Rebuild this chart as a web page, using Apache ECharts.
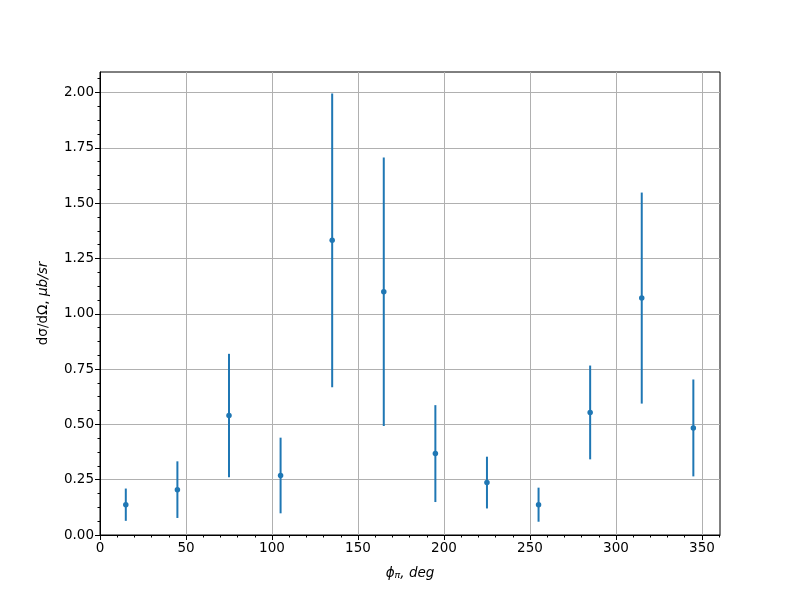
<!DOCTYPE html>
<html>
<head>
<meta charset="utf-8">
<script src="https://cdn.jsdelivr.net/npm/echarts@6/dist/echarts.min.js"></script>
<style>html,body{margin:0;padding:0;background:#fff}#c{width:800px;height:600px}</style>
</head>
<body>
<div id="c"></div>
<script>
const phi = [15, 45, 75, 105, 135, 165, 195, 225, 255, 285, 315, 345];
const xsec = [0.137, 0.205, 0.540, 0.269, 1.332, 1.100, 0.368, 0.237, 0.137, 0.554, 1.071, 0.484];
const err = [0.073, 0.128, 0.279, 0.171, 0.664, 0.607, 0.219, 0.117, 0.077, 0.212, 0.477, 0.219];
const xTicks = [0, 50, 100, 150, 200, 250, 300, 350];
const yTicks = [0.00, 0.25, 0.50, 0.75, 1.00, 1.25, 1.50, 1.75, 2.00];

const X_MAX = 360.5, Y_MAX = 2.093;
const xMinor = [], yMinor = [];
for (let k = 0; k * 10 <= X_MAX; k++) if (k % 5) xMinor.push(k * 10);
for (let k = 0; k * 0.0625 <= Y_MAX; k++) if (k % 4) yMinor.push(k * 0.0625);

const color = '#1f77b4';
const pts = phi.map((x, i) => [x, xsec[i]]);
const bars = phi.map((x, i) => [x, xsec[i] - err[i], xsec[i] + err[i]]);
const font = 'DejaVu Sans';

const hiddenAxisBase = {
  axisLine: {show: false}, axisLabel: {show: false}, splitLine: {show: false}
};

const chart = echarts.init(document.getElementById('c'), null, {renderer: 'canvas'});
chart.setOption({
  backgroundColor: '#fff',
  animation: false,
  grid: {left: 100, right: 80, top: 72, bottom: 65, show: true, borderColor: '#000', borderWidth: 1},
  xAxis: [{
    type: 'value', min: 0, max: X_MAX, interval: 50, position: 'bottom',
    axisLine: {show: true, onZero: false, lineStyle: {color: '#000', width: 1}},
    axisTick: {show: true, inside: false, length: 5, customValues: xTicks, lineStyle: {color: '#000'}},
    splitLine: {show: true, lineStyle: {color: '#b0b0b0', width: 1}},
    axisLabel: {color: '#000', fontFamily: font, fontSize: 13.5, margin: 6, customValues: xTicks,
      formatter: v => String(v)},
    name: '{i|ϕ}{s|π}{i|, deg}', nameLocation: 'middle', nameGap: 30,
    nameTextStyle: {rich: {
      i: {fontFamily: font, fontStyle: 'italic', fontSize: 13.5, color: '#000'},
      s: {fontFamily: font, fontStyle: 'italic', fontSize: 9.5, color: '#000', verticalAlign: 'bottom', padding: [6, 0, 0, 0]}
    }}
  }, Object.assign({
    type: 'value', min: 0, max: X_MAX, position: 'bottom', offset: 0,
    axisTick: {show: true, inside: false, length: 2.5, customValues: xMinor, lineStyle: {color: '#000'}}
  }, hiddenAxisBase)],
  yAxis: [{
    type: 'value', min: 0, max: Y_MAX, interval: 0.25, position: 'left',
    axisLine: {show: true, onZero: false, lineStyle: {color: '#000', width: 1}},
    axisTick: {show: true, inside: false, length: 5, customValues: yTicks, lineStyle: {color: '#000'}},
    splitLine: {show: true, lineStyle: {color: '#b0b0b0', width: 1}},
    axisLabel: {color: '#000', fontFamily: font, fontSize: 13.5, margin: 6, customValues: yTicks,
      formatter: v => v.toFixed(2)},
    name: '{n|dσ/dΩ, }{i|μb/sr}', nameLocation: 'middle', nameGap: 50, nameRotate: 90,
    nameTextStyle: {rich: {
      n: {fontFamily: font, fontSize: 13.5, color: '#000'},
      i: {fontFamily: font, fontStyle: 'italic', fontSize: 13.5, color: '#000'}
    }}
  }, Object.assign({
    type: 'value', min: 0, max: Y_MAX, position: 'left', offset: 0,
    axisTick: {show: true, inside: false, length: 2.5, customValues: yMinor, lineStyle: {color: '#000'}}
  }, hiddenAxisBase)],
  series: [
    {
      type: 'custom',
      data: bars,
      z: 3,
      renderItem: function (params, api) {
        const x = api.value(0);
        const p1 = api.coord([x, api.value(1)]);
        const p2 = api.coord([x, api.value(2)]);
        return {type: 'line', shape: {x1: p1[0], y1: p1[1], x2: p2[0], y2: p2[1]},
          style: {stroke: color, lineWidth: 2}};
      }
    },
    {
      type: 'scatter',
      data: pts,
      z: 4,
      symbol: 'circle',
      symbolSize: 5.5,
      itemStyle: {color: color, opacity: 1}
    }
  ]
});
</script>
</body>
</html>
